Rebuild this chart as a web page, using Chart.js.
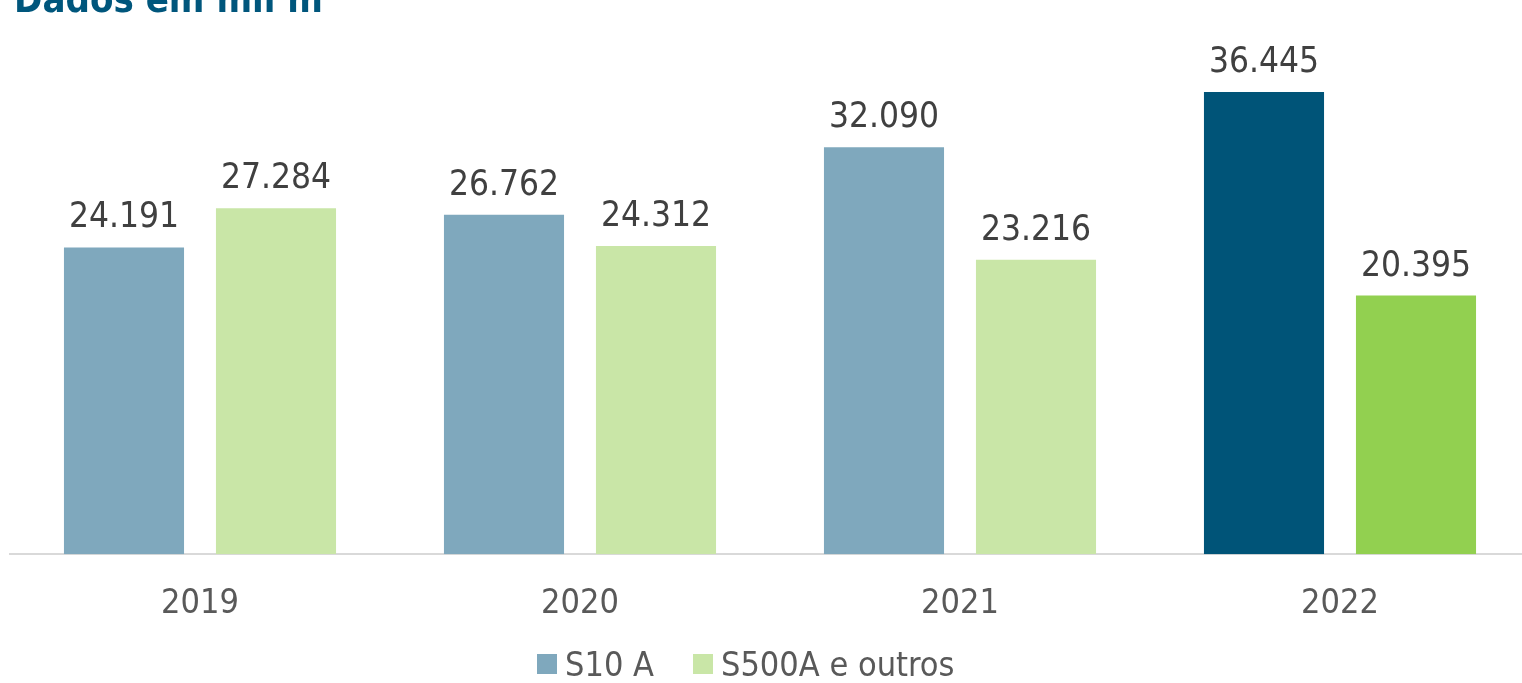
<!DOCTYPE html>
<html>
<head>
<meta charset="utf-8">
<script src="https://cdn.jsdelivr.net/npm/chart.js@4.4.0/dist/chart.umd.min.js"></script>
<style>
  html, body { margin: 0; padding: 0; background: #fff; overflow: hidden; }
  #wrap { position: relative; width: 1530px; height: 683px; }
  #title {
    position: absolute; left: 14px; top: -20px;
    font-family: "DejaVu Sans Condensed", "DejaVu Sans", sans-serif; font-weight: bold;
    font-size: 38px; line-height: 38px; color: #00567c; white-space: nowrap;
  }
  #legend {
    position: absolute; left: 537px; top: 644px; display: flex; align-items: center;
    font-family: "DejaVu Sans Condensed", "DejaVu Sans", sans-serif;
    font-size: 34px; line-height: 40px; color: #595959; white-space: nowrap;
  }
  #legend .item { display: flex; align-items: center; margin-right: 39px; }
  #legend .box { width: 20px; height: 20px; margin-right: 8px; }
</style>
</head>
<body>
<div id="wrap">
  <canvas id="chart"></canvas>
  <div id="title">Dados em mil m³</div>
  <div id="legend"></div>
</div>
<script>
// Data
const years = ['2019', '2020', '2021', '2022'];
const s10Values = [24191, 26762, 32090, 36445];
const s500Values = [27284, 24312, 23216, 20395];
const seriesNames = ['S10 A', 'S500A e outros'];

// Colours (last year highlighted)
const s10Colors = ['#7fa8bd', '#7fa8bd', '#7fa8bd', '#005478'];
const s500Colors = ['#c9e6a7', '#c9e6a7', '#c9e6a7', '#92d050'];

const fontFamily = '"DejaVu Sans Condensed", "DejaVu Sans", sans-serif';

function formatNumber(v) {
    return String(v).replace(/\B(?=(\d{3})+(?!\d))/g, '.');
}

// legend built from the series names
const legendEl = document.getElementById('legend');
seriesNames.forEach((name, i) => {
    const item = document.createElement('div');
    item.className = 'item';
    const box = document.createElement('div');
    box.className = 'box';
    box.style.background = i === 0 ? s10Colors[0] : s500Colors[0];
    const txt = document.createElement('span');
    txt.textContent = name;
    item.appendChild(box);
    item.appendChild(txt);
    legendEl.appendChild(item);
});

// draw value labels above each bar
const valueLabels = {
    id: 'valueLabels',
    afterDatasetsDraw(chart) {
        const ctx = chart.ctx;
        ctx.save();
        ctx.font = '35px ' + fontFamily;
        ctx.fillStyle = '#404040';
        ctx.textAlign = 'center';
        ctx.textBaseline = 'alphabetic';
        chart.data.datasets.forEach((ds, i) => {
            chart.getDatasetMeta(i).data.forEach((bar, j) => {
                ctx.fillText(formatNumber(ds.data[j]), bar.x, bar.y - 20);
            });
        });
        ctx.restore();
    }
};

const ctx = document.getElementById('chart').getContext('2d');
new Chart(ctx, {
    type: 'bar',
    data: {
        labels: years,
        datasets: [{
            label: seriesNames[0],
            data: s10Values,
            backgroundColor: s10Colors
        }, {
            label: seriesNames[1],
            data: s500Values,
            backgroundColor: s500Colors
        }]
    },
    options: {
        responsive: true,
        maintainAspectRatio: false,
        animation: false,
        categoryPercentage: 0.8,
        barPercentage: 0.79,
        layout: {
            padding: { top: 47, left: 10, right: 0, bottom: 36 }
        },
        plugins: {
            legend: { display: false },
            tooltip: { enabled: false }
        },
        scales: {
            x: {
                grid: { display: false },
                border: { color: '#d9d9d9', width: 2 },
                ticks: {
                    color: '#595959',
                    padding: 22,
                    font: { family: fontFamily, size: 34 }
                }
            },
            y: {
                display: false,
                min: 0,
                max: 40000
            }
        }
    },
    plugins: [valueLabels]
});
</script>
</body>
</html>
